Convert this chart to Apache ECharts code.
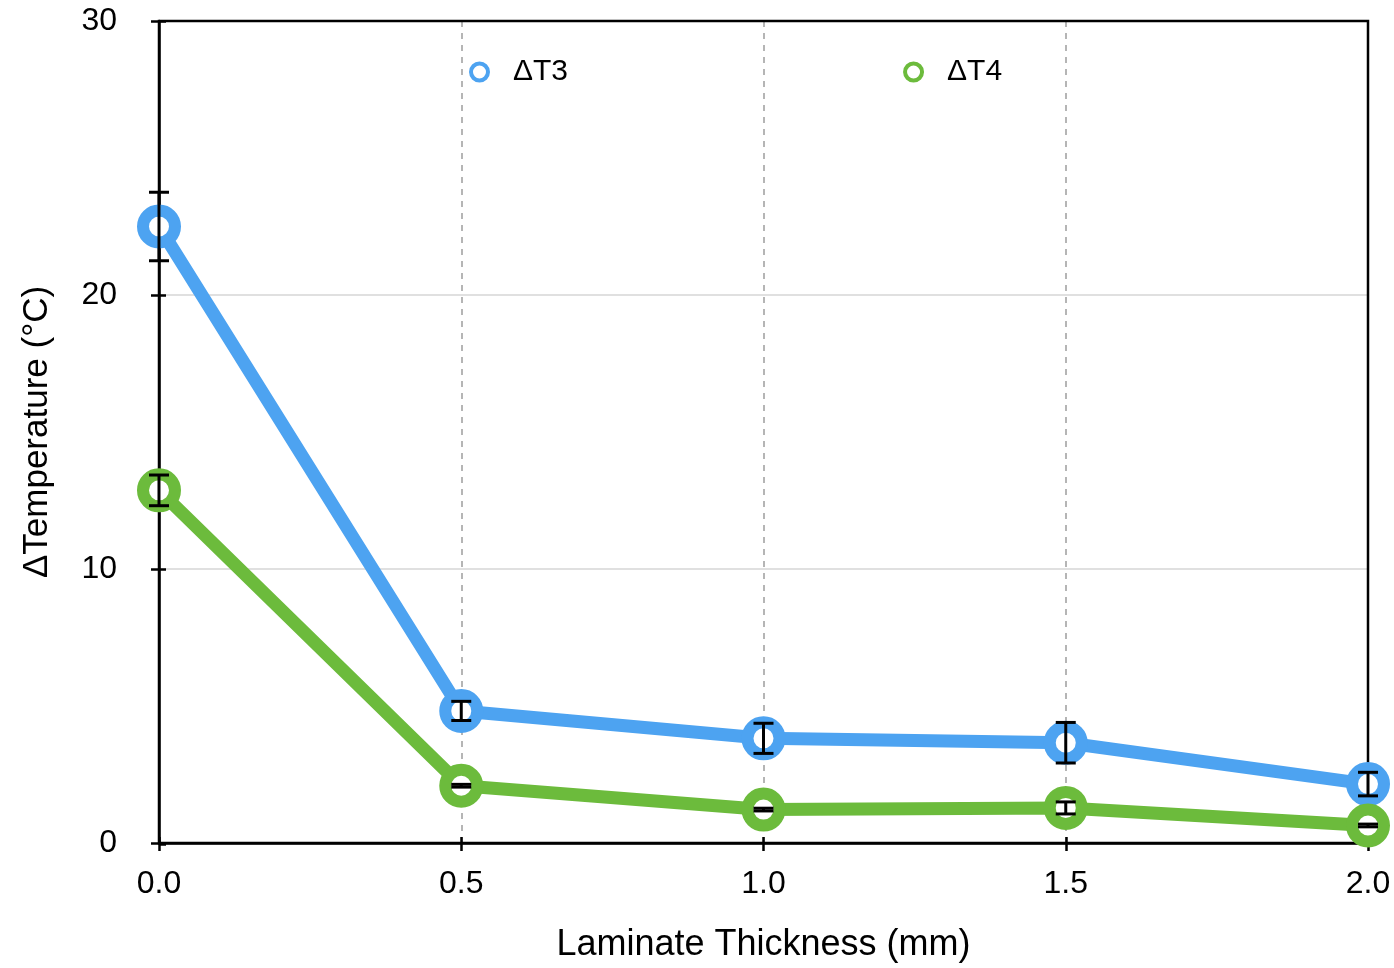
<!DOCTYPE html>
<html>
<head>
<meta charset="utf-8">
<script src="https://cdn.jsdelivr.net/npm/echarts@6/dist/echarts.min.js"></script>
<style>
html,body{margin:0;padding:0;background:#fff;}
#chart{width:1394px;height:968px;}
</style>
</head>
<body>
<div id="chart"></div>
<script>
// Data
const thickness = [0.0, 0.5, 1.0, 1.5, 2.0];
const dT3 = [22.5, 4.82, 3.82, 3.66, 2.15];
const dT3err = [1.25, 0.35, 0.55, 0.74, 0.43];
const dT4 = [12.87, 2.09, 1.22, 1.28, 0.64];
const dT4err = [0.56, 0.05, 0.05, 0.22, 0.05];
const xTicks = [0.0, 0.5, 1.0, 1.5, 2.0];
const yTicks = [0, 10, 20, 30];
const seriesNames = ['ΔT3', 'ΔT4'];

const BLUE = '#4DA3F1';
const GREEN = '#6CBB3C';
const FONT = "'Liberation Sans', Arial, Helvetica, sans-serif";

function pairs(xs, ys) { return xs.map((x, i) => [x, ys[i]]); }
function errData(xs, ys, es) { return xs.map((x, i) => [x, ys[i] - es[i], ys[i] + es[i]]); }

function renderErr(params, api) {
  const x = api.value(0), lo = api.value(1), hi = api.value(2);
  const pLo = api.coord([x, lo]);
  const pHi = api.coord([x, hi]);
  const hw = 10;
  const style = { stroke: '#000', lineWidth: 3 };
  return {
    type: 'group',
    children: [
      { type: 'line', shape: { x1: pLo[0], y1: pLo[1], x2: pHi[0], y2: pHi[1] }, style },
      { type: 'line', shape: { x1: pLo[0] - hw, y1: pLo[1], x2: pLo[0] + hw, y2: pLo[1] }, style },
      { type: 'line', shape: { x1: pHi[0] - hw, y1: pHi[1], x2: pHi[0] + hw, y2: pHi[1] }, style }
    ]
  };
}

const chart = echarts.init(document.getElementById('chart'), null, { renderer: 'canvas' });

const xMin = xTicks[0], xMax = xTicks[xTicks.length - 1];
const yMin = yTicks[0], yMax = yTicks[yTicks.length - 1];
const tickStyle = { color: '#000', width: 2.5 };
const noThing = { show: false };
const gridRect = { left: 159, right: 26, top: 21, bottom: 124 };

chart.setOption({
  backgroundColor: '#fff',
  animation: false,
  grid: [
    Object.assign({ show: true, borderColor: '#000', borderWidth: 2.5, backgroundColor: 'transparent', z: 2 }, gridRect),
    Object.assign({ show: false }, gridRect)
  ],
  legend: {
    data: seriesNames,
    left: 464, top: 52,
    icon: 'circle',
    itemWidth: 17, itemHeight: 17,
    itemGap: 335,
    itemStyle: { borderWidth: 4 },
    textStyle: { fontFamily: FONT, fontSize: 30, color: '#000', padding: [0, 0, 0, 20] }
  },
  xAxis: [{
    gridIndex: 0, type: 'value', min: xMin, max: xMax, interval: 0.5,
    name: 'Laminate Thickness (mm)', nameLocation: 'middle', nameGap: 84,
    nameTextStyle: { fontFamily: FONT, fontSize: 36, color: '#000' },
    axisLine: { show: true, onZero: false, lineStyle: tickStyle },
    axisTick: { show: true, inside: false, length: 8, lineStyle: tickStyle },
    axisLabel: { fontFamily: FONT, fontSize: 32, color: '#000', margin: 25, formatter: v => v.toFixed(1) },
    splitLine: { show: true, showMinLine: false, showMaxLine: false, lineStyle: { color: '#b5b5b5', type: [6, 6], width: 2 } }
  }, {
    gridIndex: 1, type: 'value', min: xMin, max: xMax, interval: 0.5, position: 'bottom',
    axisLine: { show: false, onZero: false },
    axisTick: { show: true, inside: true, length: 7, lineStyle: tickStyle },
    axisLabel: noThing, splitLine: noThing
  }],
  yAxis: [{
    gridIndex: 0, type: 'value', min: yMin, max: yMax, interval: 10,
    name: 'ΔTemperature (°C)', nameLocation: 'middle', nameGap: 104,
    nameTextStyle: { fontFamily: FONT, fontSize: 35, color: '#000' },
    axisLine: { show: true, onZero: false, lineStyle: tickStyle },
    axisTick: { show: true, inside: false, length: 8, lineStyle: tickStyle },
    axisLabel: { fontFamily: FONT, fontSize: 32, color: '#000', margin: 42 },
    splitLine: { show: true, showMinLine: false, showMaxLine: false, lineStyle: { color: '#d6d6d6', width: 1.5 } }
  }, {
    gridIndex: 1, type: 'value', min: yMin, max: yMax, interval: 10, position: 'left',
    axisLine: { show: false, onZero: false },
    axisTick: { show: true, inside: true, length: 7, lineStyle: tickStyle },
    axisLabel: noThing, splitLine: noThing
  }],
  series: [
    {
      name: seriesNames[0], type: 'line', data: pairs(thickness, dT3),
      symbol: 'circle', symbolSize: 32, clip: false, z: 3,
      lineStyle: { color: BLUE, width: 13 },
      itemStyle: { color: '#fff', borderColor: BLUE, borderWidth: 12 }
    },
    {
      name: seriesNames[1], type: 'line', data: pairs(thickness, dT4),
      symbol: 'circle', symbolSize: 32, clip: false, z: 4,
      lineStyle: { color: GREEN, width: 13 },
      itemStyle: { color: '#fff', borderColor: GREEN, borderWidth: 12 }
    },
    {
      type: 'custom', name: 'err3', renderItem: renderErr, data: errData(thickness, dT3, dT3err),
      z: 10, silent: true, encode: { x: 0, y: [1, 2] }
    },
    {
      type: 'custom', name: 'err4', renderItem: renderErr, data: errData(thickness, dT4, dT4err),
      z: 10, silent: true, encode: { x: 0, y: [1, 2] }
    }
  ]
});
</script>
</body>
</html>
